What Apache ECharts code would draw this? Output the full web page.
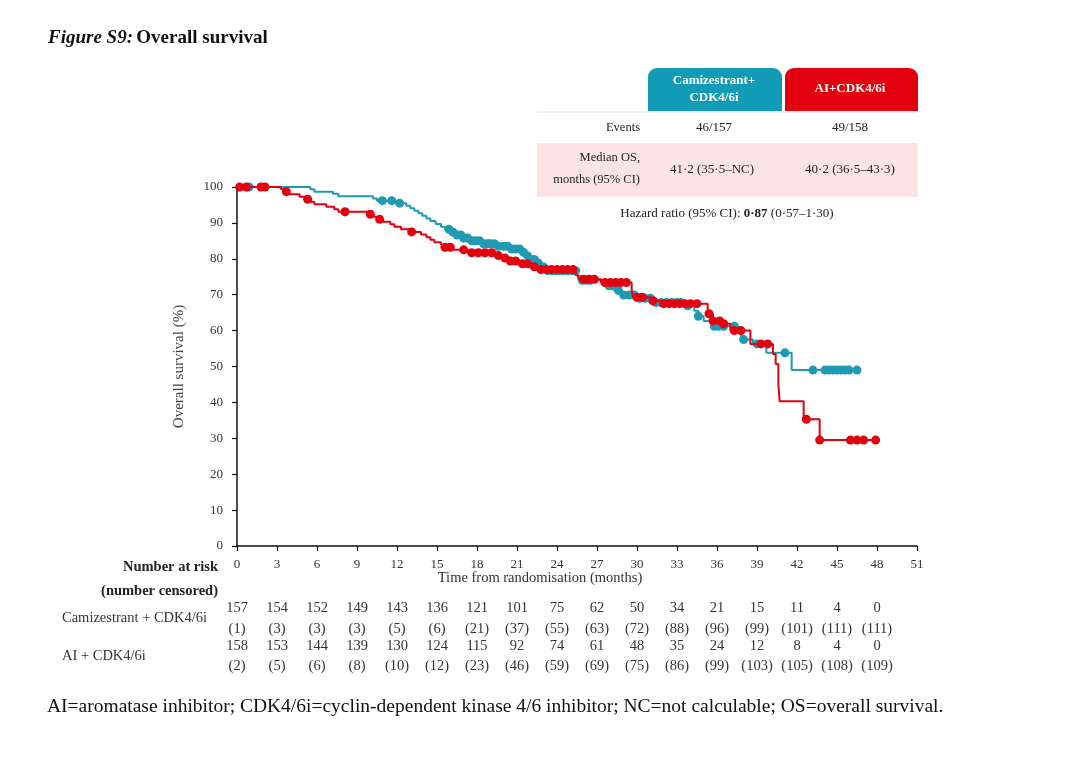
<!DOCTYPE html>
<html>
<head>
<meta charset="utf-8">
<script src="https://cdn.jsdelivr.net/npm/echarts@6/dist/echarts.min.js"></script>
<style>
  html, body { margin: 0; padding: 0; background: #fff; }
  #chart { width: 1080px; height: 757px; }
</style>
</head>
<body>
<div id="chart"></div>
<script>
// KM steps: [month, survival % from that month on]
var camiSteps = [
  [0, 100], [5.5, 99.4], [5.8, 98.7], [7.2, 98.1], [7.6, 97.4], [10.2, 96.8], [10.5, 96.2],
  [11.9, 95.5], [12.7, 94.8], [13.0, 94.1], [13.3, 93.4], [13.6, 92.7], [13.9, 92.0],
  [14.2, 91.2], [14.5, 90.5], [14.9, 89.7], [15.3, 88.9], [15.6, 88.2], [16.1, 87.4],
  [16.5, 86.6], [16.9, 85.8], [17.5, 85.0], [18.3, 84.2], [19.4, 83.5], [20.6, 82.7],
  [21.3, 81.8], [21.7, 80.8], [22.1, 79.8], [22.5, 78.8], [22.9, 77.7], [23.3, 76.7],
  [25.5, 75.3], [25.8, 74.0], [27.8, 72.5], [28.3, 71.2], [28.8, 69.9], [30.1, 69.0],
  [31.2, 67.8], [33.6, 66.9], [34.3, 65.5], [34.6, 64.0], [35.0, 62.7], [35.7, 61.2],
  [37.6, 59.6], [37.8, 57.5], [38.7, 56.3], [39.7, 53.8], [41.6, 49.0]
];
var aiSteps = [
  [0, 100], [3.3, 99.4], [3.6, 98.7], [3.9, 98.0], [4.7, 97.3], [5.2, 96.6], [5.5, 95.9],
  [5.8, 95.2], [6.7, 94.5], [7.3, 93.8], [7.6, 93.1], [9.9, 92.4], [10.2, 91.7], [10.6, 91.0],
  [10.9, 90.3], [11.5, 89.6], [11.8, 88.9], [12.3, 88.2], [13.0, 87.5], [13.8, 86.8],
  [14.2, 86.0], [14.5, 85.3], [14.8, 84.6], [15.3, 83.9], [15.6, 83.2], [16.2, 82.5],
  [17.3, 81.7], [19.5, 80.9], [19.9, 80.2], [20.4, 79.4], [21.3, 78.6], [22.1, 77.8],
  [22.6, 77.0], [25.4, 75.4], [25.6, 74.3], [27.3, 73.4], [29.6, 71.4], [29.7, 69.3],
  [31.0, 68.3], [32.0, 67.5], [35.3, 66.0], [35.4, 64.7], [35.7, 62.7], [36.5, 61.9],
  [37.0, 60.0], [38.5, 56.3], [40.2, 53.5], [40.4, 50.7], [40.6, 45.0], [40.7, 40.3],
  [42.5, 35.3], [43.7, 29.5]
];
// censoring times (months)
var camiCensor = [0.9, 10.9, 11.6, 12.2, 15.9, 16.2, 16.5, 16.8, 17.0, 17.3, 17.6, 17.9, 18.2,
  18.5, 18.8, 19.0, 19.3, 19.6, 20.0, 20.3, 20.6, 20.9, 21.2, 21.5, 21.8, 22.3, 22.6, 23.0,
  23.3, 23.6, 23.9, 24.2, 24.5, 24.8, 25.1, 25.4, 25.9, 26.2, 26.5, 27.9, 28.2, 28.6, 29.0,
  29.4, 29.8, 30.2, 30.6, 31.0, 31.4, 31.8, 32.2, 32.6, 33.0, 33.3, 33.8, 34.6, 35.8, 36.1,
  36.5, 37.3, 38.0, 39.0, 41.1, 43.2, 44.1, 44.4, 44.7, 45.0, 45.3, 45.6, 45.9, 46.5];
var aiCensor = [0.2, 0.7, 1.8, 2.1, 3.7, 5.3, 8.1, 10.0, 10.7, 13.1, 15.6, 16.0, 17.0, 17.6,
  18.1, 18.6, 19.1, 19.6, 20.1, 20.5, 20.9, 21.4, 21.8, 22.3, 22.8, 23.2, 23.6, 24.0, 24.4,
  24.8, 25.2, 26.0, 26.4, 26.8, 27.6, 28.0, 28.4, 28.8, 29.2, 30.0, 30.4, 31.2, 32.0, 32.4,
  32.8, 33.2, 33.6, 34.0, 34.5, 35.4, 35.7, 36.2, 36.5, 37.3, 37.8, 39.3, 39.8, 42.7, 43.7,
  46.0, 46.5, 47.0, 47.9];

var riskTimes = [0, 3, 6, 9, 12, 15, 18, 21, 24, 27, 30, 33, 36, 39, 42, 45, 48];
var camiRisk = [157, 154, 152, 149, 143, 136, 121, 101, 75, 62, 50, 34, 21, 15, 11, 4, 0];
var camiCens = [1, 3, 3, 3, 5, 6, 21, 37, 55, 63, 72, 88, 96, 99, 101, 111, 111];
var aiRisk = [158, 153, 144, 139, 130, 124, 115, 92, 74, 61, 48, 35, 24, 12, 8, 4, 0];
var aiCens = [2, 5, 6, 8, 10, 12, 23, 46, 59, 69, 75, 86, 99, 103, 105, 108, 109];

var TEAL = '#1f9ab2';
var RED = '#e3000f';
var SERIF = '"Liberation Serif", "DejaVu Serif", serif';

function survAt(steps, t) {
  var s = steps[0][1];
  for (var i = 0; i < steps.length; i++) {
    if (steps[i][0] <= t) s = steps[i][1];
  }
  return s;
}
function lineData(steps, censor) {
  var d = steps.slice();
  var last = censor[censor.length - 1];
  d.push([last, survAt(steps, last)]);
  return d;
}
function censorData(steps, censor) {
  return censor.map(function (t) { return [t, survAt(steps, t)]; });
}

var chart = echarts.init(document.getElementById('chart'), null, { renderer: 'canvas' });

var axisCommon = {
  axisLine: { show: true, lineStyle: { color: '#111', width: 1.5 } },
  axisTick: { show: true, inside: false, length: 5, lineStyle: { color: '#111', width: 1.2 } },
  splitLine: { show: false }
};

chart.setOption({
  animation: false,
  backgroundColor: '#fff',
  grid: { left: 237, right: 163, top: 187, bottom: 211, containLabel: false },
  xAxis: Object.assign({
    type: 'value', min: 0, max: 51, interval: 3,
    axisLabel: { fontFamily: SERIF, fontSize: 13, color: '#333', margin: 12 }
  }, axisCommon),
  yAxis: Object.assign({
    type: 'value', min: 0, max: 100, interval: 10,
    name: 'Overall survival (%)', nameLocation: 'middle', nameGap: 50, nameRotate: 90,
    nameTextStyle: { fontFamily: SERIF, fontSize: 15, color: '#444' },
    axisLabel: { fontFamily: SERIF, fontSize: 13, color: '#333', margin: 14 }
  }, axisCommon),
  series: [
    {
      type: 'line', step: 'end', showSymbol: false, data: lineData(camiSteps, camiCensor),
      lineStyle: { color: TEAL, width: 2 }, itemStyle: { color: TEAL }, z: 2
    },
    {
      type: 'scatter', data: censorData(camiSteps, camiCensor), symbolSize: 9,
      itemStyle: { color: TEAL, opacity: 1 }, z: 3
    },
    {
      type: 'line', step: 'end', showSymbol: false, data: lineData(aiSteps, aiCensor),
      lineStyle: { color: RED, width: 2 }, itemStyle: { color: RED }, z: 4
    },
    {
      type: 'scatter', data: censorData(aiSteps, aiCensor), symbolSize: 9,
      itemStyle: { color: RED, opacity: 1 }, z: 5
    }
  ]
});

function txt(x, y, text, opts) {
  opts = opts || {};
  return {
    type: 'text', x: x, y: y, silent: true, z: 10,
    style: {
      text: text,
      font: (opts.weight || 'normal') + ' ' + (opts.size || 12) + 'px ' + SERIF,
      fill: opts.color || '#222',
      align: opts.align || 'center',
      verticalAlign: 'middle'
    }
  };
}

var g = [];
// title
g.push({
  type: 'text', x: 48, y: 38,
  style: {
    text: '{a|Figure S9:} {b|Overall survival}',
    verticalAlign: 'middle',
    rich: {
      a: { font: 'italic bold 19px ' + SERIF, fill: '#111' },
      b: { font: 'bold 19px ' + SERIF, fill: '#111' }
    }
  }
});
// summary table
g.push({ type: 'rect', shape: { x: 537, y: 143, width: 381, height: 54 }, style: { fill: '#fce4e4' } });
g.push({ type: 'line', shape: { x1: 537, y1: 112, x2: 918, y2: 112 }, style: { stroke: '#e2e2e2', lineWidth: 1 } });
g.push({ type: 'rect', shape: { x: 648, y: 68, width: 134, height: 43, r: [9, 9, 0, 0] }, style: { fill: '#129bb6' } });
g.push({ type: 'rect', shape: { x: 785, y: 68, width: 133, height: 43, r: [9, 9, 0, 0] }, style: { fill: '#e2000e' } });
g.push(txt(714, 81, 'Camizestrant+', { weight: 'bold', size: 13, color: '#fff' }));
g.push(txt(714, 98, 'CDK4/6i', { weight: 'bold', size: 13, color: '#fff' }));
g.push(txt(850, 89, 'AI+CDK4/6i', { weight: 'bold', size: 13, color: '#fff' }));
g.push(txt(640, 128, 'Events', { align: 'right', size: 12.5 }));
g.push(txt(714, 128, '46/157', { size: 13 }));
g.push(txt(850, 128, '49/158', { size: 13 }));
g.push(txt(640, 158, 'Median OS,', { align: 'right', size: 12.5 }));
g.push(txt(640, 180, 'months (95% CI)', { align: 'right', size: 12.5 }));
g.push(txt(712, 170, '41\u00b72 (35\u00b75\u2013NC)', { size: 13 }));
g.push(txt(850, 170, '40\u00b72 (36\u00b75\u201343\u00b73)', { size: 13 }));
g.push({
  type: 'text', x: 727, y: 214,
  style: {
    text: 'Hazard ratio (95% CI): {b|0\u00b787} (0\u00b757\u20131\u00b730)',
    font: '13px ' + SERIF, fill: '#222', align: 'center', verticalAlign: 'middle',
    rich: { b: { font: 'bold 13px ' + SERIF, fill: '#222' } }
  }
});
// x axis title
g.push(txt(540, 578, 'Time from randomisation (months)', { size: 14.5, color: '#333' }));
// number at risk
g.push(txt(218, 567, 'Number at risk', { weight: 'bold', size: 14.5, align: 'right', color: '#222' }));
g.push(txt(218, 591, '(number censored)', { weight: 'bold', size: 14.5, align: 'right', color: '#222' }));
g.push(txt(62, 618, 'Camizestrant + CDK4/6i', { size: 14.5, align: 'left', color: '#333' }));
g.push(txt(62, 656, 'AI + CDK4/6i', { size: 14.5, align: 'left', color: '#333' }));
riskTimes.forEach(function (t, i) {
  var px = chart.convertToPixel({ xAxisIndex: 0 }, t);
  g.push(txt(px, 608, String(camiRisk[i]), { size: 14.5, color: '#333' }));
  g.push(txt(px, 629, '(' + camiCens[i] + ')', { size: 14.5, color: '#333' }));
  g.push(txt(px, 646, String(aiRisk[i]), { size: 14.5, color: '#333' }));
  g.push(txt(px, 666, '(' + aiCens[i] + ')', { size: 14.5, color: '#333' }));
});
// footnote
g.push(txt(47, 707, 'AI=aromatase inhibitor; CDK4/6i=cyclin-dependent kinase 4/6 inhibitor; NC=not calculable; OS=overall survival.', { size: 19.5, align: 'left', color: '#111' }));

chart.setOption({ graphic: g });
</script>
</body>
</html>
